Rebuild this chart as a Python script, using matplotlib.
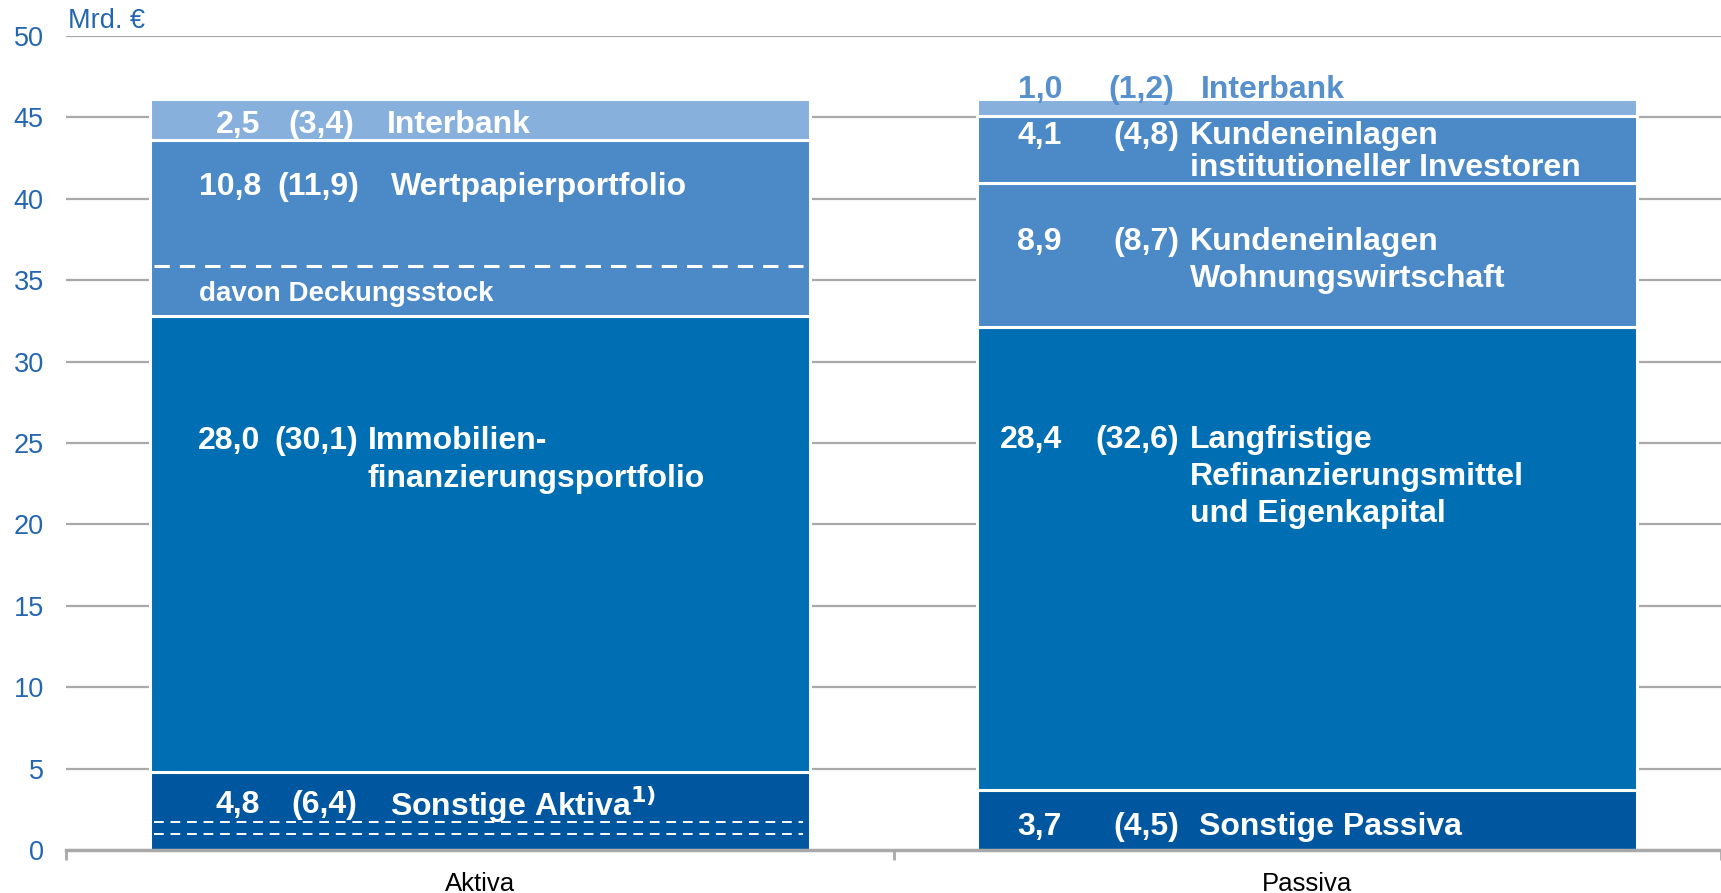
import matplotlib
matplotlib.use("Agg")
import matplotlib.pyplot as plt
import numpy as np

plt.rcParams['font.family'] = ['Liberation Sans', 'DejaVu Sans']

# ---------------- data ----------------
categories = ["Aktiva", "Passiva"]
aktiva_names = ["Sonstige Aktiva", "Immobilienfinanzierungsportfolio", "Wertpapierportfolio", "Interbank"]
aktiva_values = [4.8, 28.0, 10.8, 2.5]
aktiva_prev = [6.4, 30.1, 11.9, 3.4]
passiva_names = ["Sonstige Passiva", "Langfristige Refinanzierungsmittel und Eigenkapital",
                 "Kundeneinlagen Wohnungswirtschaft", "Kundeneinlagen institutioneller Investoren", "Interbank"]
passiva_values = [3.7, 28.4, 8.9, 4.1, 1.0]
passiva_prev = [4.5, 32.6, 8.7, 4.8, 1.2]
deckungsstock_level = 35.9          # dashed line within Wertpapierportfolio
sonstige_dash_levels = [1.7, 1.0]   # dashed lines within Sonstige Aktiva
yticks = [0, 5, 10, 15, 20, 25, 30, 35, 40, 45, 50]

# ---------------- styles ----------------
LIGHT = "#87B1DC"
MED = "#4B89C7"
MAIN = "#006EB3"
DARK = "#00569F"
TICKBLUE = "#2466B0"
GRID = "#A9A9A9"
aktiva_colors = [DARK, MAIN, MED, LIGHT]
passiva_colors = [DARK, MAIN, MED, MED, LIGHT]

W, H = 1721, 893
fig = plt.figure(figsize=(W / 100, H / 100), dpi=100)
ax = fig.add_axes([66 / W, 1 - 850 / H, 1 - 66 / W, (850 - 36) / H])
ax.set_xlim(-0.5, 1.5)
ax.set_ylim(0, 50)

# gridlines
for t in yticks[1:]:
    ax.axhline(t, color=GRID, lw=1.6, zorder=0)

bw = 0.797
def stack(x, vals, cols):
    bottom = 0
    for v, c in zip(vals, cols):
        ax.bar(x, v, width=bw, bottom=bottom, color=c, edgecolor="white",
               linewidth=2.2, zorder=2)
        bottom += v

stack(0, aktiva_values, aktiva_colors)
stack(1, passiva_values, passiva_colors)

# dashed lines
x0, x1 = -bw / 2 + 0.005, bw / 2 - 0.008
ax.plot([x0, x1], [deckungsstock_level] * 2, color="white", lw=2.2,
        dashes=(5, 3.3), zorder=3)
for lv in sonstige_dash_levels:
    ax.plot([x0, x1], [lv] * 2, color="white", lw=1.4, dashes=(5, 3.5), zorder=3)

# spines / ticks
for s in ["top", "right", "left"]:
    ax.spines[s].set_visible(False)
ax.spines["bottom"].set_color(GRID)
ax.spines["bottom"].set_linewidth(2.5)
ax.set_yticks(yticks)
ax.set_yticklabels([str(t) for t in yticks], color=TICKBLUE, fontsize=19.5)
ax.tick_params(axis="y", length=0, pad=16)
ax.set_xticks([0, 1])
ax.set_xticklabels(categories, fontsize=18.5, color="black")
ax.tick_params(axis="x", length=0, pad=16)
ax.set_xticks([-0.5, 0.5, 1.5], minor=True)
ax.tick_params(axis="x", which="minor", length=7, width=2, color=GRID)

ax.text(-0.497, 50.9, "Mrd. €", color=TICKBLUE, fontsize=19.5, ha="left", va="center")

def fmt(v):
    return f"{v:.1f}".replace(".", ",")

FS = 23
OFF = -0.24
def row(xv, xp, xn, y, v, p, name_lines, color="white", dy=2.3):
    y = y + OFF
    ax.text(xv, y, fmt(v), ha="right", va="center", color=color, fontsize=FS, fontweight="bold", zorder=5)
    ax.text(xp, y, f"({fmt(p)})", ha="right", va="center", color=color, fontsize=FS, fontweight="bold", zorder=5)
    for i, ln in enumerate(name_lines):
        ax.text(xn, y - i * dy, ln, ha="left", va="center", color=color, fontsize=FS,
                fontweight="bold", zorder=5)

def px(p):
    return -0.5 + (p - 66) / 827.5

# Aktiva labels
row(px(260), px(354), px(387), 44.8, aktiva_values[3], aktiva_prev[3], ["Interbank"])
row(px(261), px(359), px(391), 40.95, aktiva_values[2], aktiva_prev[2], ["Wertpapierportfolio"])
ax.text(px(199), 34.4 + OFF, "davon Deckungsstock", ha="left", va="center", color="white",
        fontsize=20, fontweight="bold", zorder=5)
row(px(260), px(358), px(368), 25.35, aktiva_values[1], aktiva_prev[1],
    ["Immobilien-", "finanzierungsportfolio"])
row(px(260), px(357), px(390), 3.0, aktiva_values[0], aktiva_prev[0], ["Sonstige Aktiva$^{\\mathbf{1)}}$"])

# Passiva labels
row(px(1062), px(1174), px(1201), 46.95, passiva_values[4], passiva_prev[4], ["Interbank"], color="#5690CD")
row(px(1062), px(1179), px(1190), 44.1, passiva_values[3], passiva_prev[3],
    ["Kundeneinlagen", "institutioneller Investoren"], dy=1.95)
row(px(1062), px(1179), px(1190), 37.6, passiva_values[2], passiva_prev[2],
    ["Kundeneinlagen", "Wohnungswirtschaft"])
row(px(1062), px(1179), px(1190), 25.45, passiva_values[1], passiva_prev[1],
    ["Langfristige", "Refinanzierungsmittel", "und Eigenkapital"])
row(px(1062), px(1179), px(1199), 1.65, passiva_values[0], passiva_prev[0], ["Sonstige Passiva"])

fig.savefig("out.png", dpi=100)
